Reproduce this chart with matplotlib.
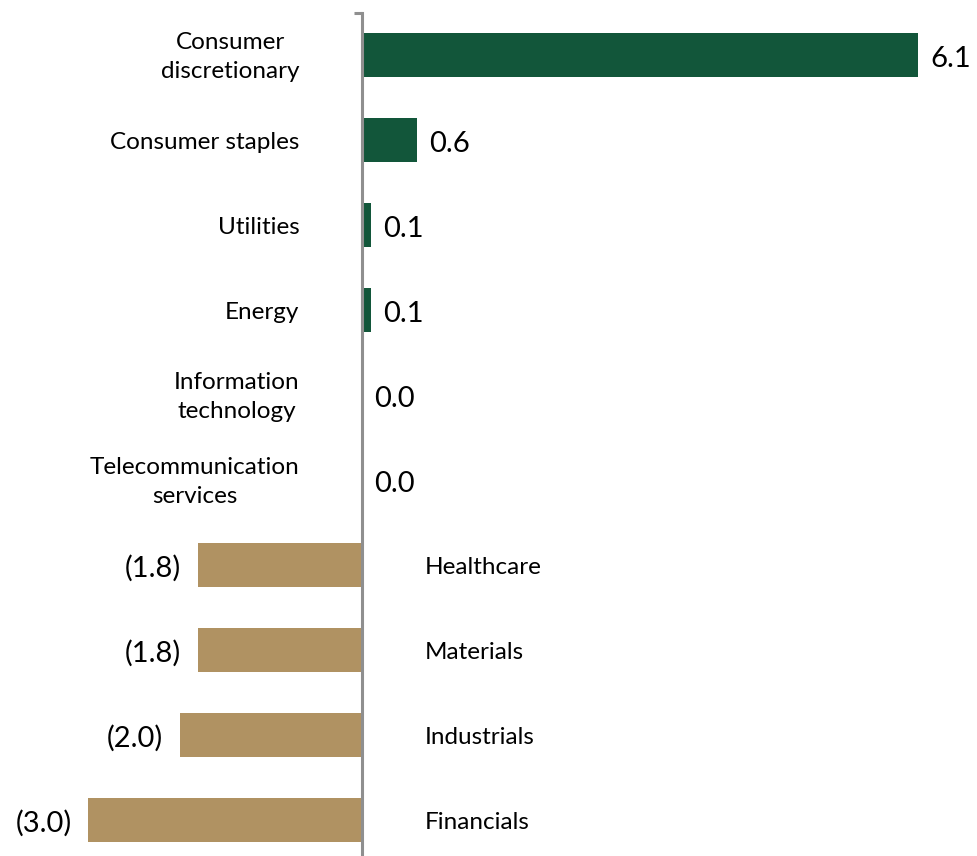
import matplotlib
matplotlib.use("Agg")
import matplotlib.pyplot as plt

categories = ["Consumer\ndiscretionary", "Consumer staples", "Utilities", "Energy",
              "Information\ntechnology", "Telecommunication\nservices", "Healthcare",
              "Materials", "Industrials", "Financials"]
values = [6.1, 0.6, 0.1, 0.1, 0.0, 0.0, -1.8, -1.8, -2.0, -3.0]

GREEN = "#12563A"
TAN = "#B09262"
AXIS_GRAY = "#8F8F8F"

plt.rcParams['font.family'] = ['Lato', 'DejaVu Sans']

W, H = 978, 856
fig = plt.figure(figsize=(W / 100, H / 100), dpi=100)
top_px = 12.5
row_px = 85.0
n = len(categories)
h_frac = n * row_px / H
bottom = 1 - top_px / H - h_frac
ax = fig.add_axes([0, bottom, 1, h_frac])

px_per_unit = 91.2
zero_px = 362
ax.set_xlim(-zero_px / px_per_unit, (W - zero_px) / px_per_unit)
ax.set_ylim(n - 0.5, -0.5)

ypos = list(range(n))
colors = [GREEN if v >= 0 else TAN for v in values]
ax.barh(ypos, values, height=0.52, color=colors, zorder=2)

for s in ["top", "right", "bottom"]:
    ax.spines[s].set_visible(False)
ax.spines["left"].set_position(("data", 0))
ax.spines["left"].set_color(AXIS_GRAY)
ax.spines["left"].set_linewidth(2.2)
ax.spines["left"].set_zorder(3)
ax.set_xticks([])
ax.set_yticks([-0.5])
ax.set_yticklabels([""])
ax.tick_params(axis="y", length=5.8, width=2.2, color=AXIS_GRAY, direction="out")

cat_fs = 17.5
val_fs = 21
for y, (c, v) in enumerate(zip(categories, values)):
    if v >= 0:
        ax.annotate(c, xy=(0, y), xytext=(-45, -1.5), textcoords="offset points",
                    ha="right", va="center", multialignment="center",
                    fontsize=cat_fs, color="black", linespacing=1.5, annotation_clip=False)
        ax.annotate(f"{v:.1f}", xy=(v, y), xytext=(9, -3), textcoords="offset points",
                    ha="left", va="center", fontsize=val_fs, color="black", annotation_clip=False)
    else:
        ax.annotate(c, xy=(0, y), xytext=(45, -1.5), textcoords="offset points",
                    ha="left", va="center", multialignment="center",
                    fontsize=cat_fs, color="black", linespacing=1.5, annotation_clip=False)
        ax.annotate(f"({abs(v):.1f})", xy=(v, y), xytext=(-12, -2.5), textcoords="offset points",
                    ha="right", va="center", fontsize=val_fs, color="black", annotation_clip=False)

fig.savefig("out.png", dpi=100)
